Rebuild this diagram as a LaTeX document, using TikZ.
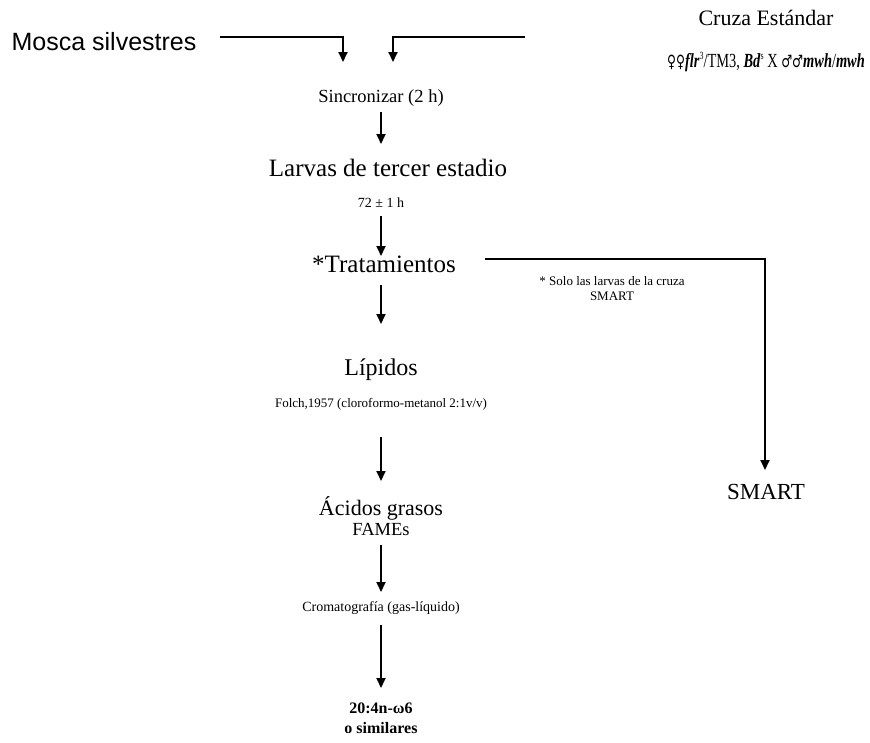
\documentclass[tikz,border=0pt]{standalone}
\usepackage{fontspec}
\usepackage{graphicx}
\setmainfont{Liberation Serif}
\newfontfamily\arialf{Liberation Sans}
\newfontfamily\symf{DejaVu Sans}
\usetikzlibrary{arrows.meta}
\tikzset{
  arr/.style={line width=1.8pt,-{Triangle[length=10pt,width=9pt]}},
  thickl/.style={line width=2.6pt},
  txt/.style={inner sep=0pt,anchor=center},
}
\newcommand{\fs}[1]{\fontsize{#1}{#1}\selectfont}
\newcommand{\supx}[1]{\raisebox{0.42em}{\fs{11}#1}}
\begin{document}
\begin{tikzpicture}[x=1pt,y=-1pt]
\useasboundingbox (0,0) rectangle (870,742);
% texts
\node[txt] (mosca) at (104,42) {\arialf\fs{25}Mosca silvestres};
\node[txt] (cruza) at (766,18) {\fs{22}Cruza Estándar};
\node[txt] (geno) at (766,62) {\scalebox{0.72}[1]{\fs{20}{\symf\fs{17}♀♀}\textbf{\textit{flr}}\supx{3}/TM3, \textbf{\textit{Bd}}\supx{s} X {\symf\fs{17}♂♂}\textbf{\textit{mwh}}/\textbf{\textit{mwh}}}};
\node[txt] (sinc) at (381,98) {\fs{18.5}Sincronizar (2 h)};
\node[txt] (larv) at (388,168) {\fs{25}Larvas de tercer estadio};
\node[txt] (hrs) at (381,203) {\fs{14}72 ± 1 h};
\node[txt] (trat) at (384,264) {\fs{25}*Tratamientos};
\node[txt] (solo) at (612,281) {\fs{13}* Solo las larvas de la cruza};
\node[txt] (solo2) at (612,296) {\fs{13}SMART};
\node[txt] (lip) at (381,370) {\fs{24}Lípidos};
\node[txt] (folch) at (381,404) {\fs{13}Folch,1957 (cloroformo-metanol 2:1v/v)};
\node[txt] (acid) at (381,508) {\fs{22}Ácidos grasos};
\node[txt] (fame) at (381,529) {\fs{18.5}FAMEs};
\node[txt] (crom) at (381,608) {\fs{14}Cromatografía (gas-líquido)};
\node[txt] (res) at (381,708) {\fs{16}\textbf{20:4n-ω6}};
\node[txt] (res2) at (381,728) {\fs{16}\textbf{o similares}};
\node[txt] (smart) at (766,492) {\fs{23}SMART};
% connector coordinates
\coordinate (mL) at (220,37);
\coordinate (cR) at (525,37);
\coordinate (jL) at (343,37);
\coordinate (jR) at (393,37);
\coordinate (tipL) at (343,62);
\coordinate (tipR) at (393,62);
\coordinate (tR) at (485,259);
\coordinate (cornerS) at (765,259);
\coordinate (tipS) at (765,470);
\coordinate (a1s) at (381,112);
\coordinate (a1e) at (381,144);
\coordinate (a2s) at (381,216);
\coordinate (a2e) at (381,256);
\coordinate (a3s) at (381,285);
\coordinate (a3e) at (381,324);
\coordinate (a4s) at (381,437);
\coordinate (a4e) at (381,481);
\coordinate (a5s) at (381,545);
\coordinate (a5e) at (381,592);
\coordinate (a6s) at (381,625);
\coordinate (a6e) at (381,688);
% top lines
\draw[thickl] (mL) -- (jL);
\draw[arr] ([yshift=1.2pt]jL) -- (tipL);
\draw[thickl] (cR) -- (jR);
\draw[arr] ([yshift=1.2pt]jR) -- (tipR);
% main column
\draw[arr] (a1s) -- (a1e);
\draw[arr] (a2s) -- (a2e);
\draw[arr] (a3s) -- (a3e);
\draw[arr] (a4s) -- (a4e);
\draw[arr] (a5s) -- (a5e);
\draw[arr] (a6s) -- (a6e);
% right branch
\draw[thickl] (tR) -- (cornerS);
\draw[arr] ([yshift=1.2pt]cornerS) -- (tipS);
\end{tikzpicture}
\end{document}
